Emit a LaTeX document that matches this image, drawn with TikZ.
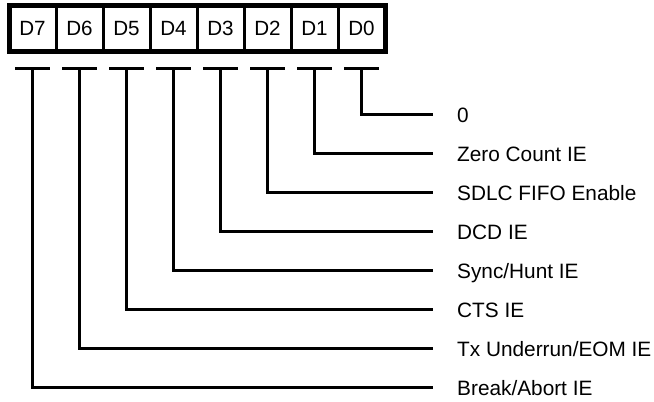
\documentclass[tikz,border=0pt]{standalone}
\usepackage{fontspec}
\setmainfont{Liberation Sans}
\usetikzlibrary{positioning}

\tikzset{
	bit/.style={draw, line width=3pt, minimum width=47pt, minimum height=46.5pt, inner sep=0pt, outer sep=0pt, font=\fontsize{20.6}{24}\selectfont},
	field/.style={anchor=west, inner sep=0pt, text height=17pt, text depth=0pt, font=\fontsize{20.8}{24}\selectfont},
	tbar/.style={line width=3pt},
	wire/.style={line width=2.6pt},
}

\begin{document}
\begin{tikzpicture}[x=1pt,y=-1pt]
				\useasboundingbox (0,0) rectangle (654,402);
				% register bits
				\node[bit] at (32.5,28.25)  (b7) {D7};
				\node[bit] at (79.5,28.25)  (b6) {D6};
				\node[bit] at (126.5,28.25) (b5) {D5};
				\node[bit] at (173.5,28.25) (b4) {D4};
				\node[bit] at (220.5,28.25) (b3) {D3};
				\node[bit] at (267.5,28.25) (b2) {D2};
				\node[bit] at (314.5,28.25) (b1) {D1};
				\node[bit] at (361.5,28.25) (b0) {D0};
				\draw[line width=5pt] (b7.north west) rectangle (b0.south east);
				% bar tops
				\coordinate[below=40.25pt of b7.center] (t7);
				\coordinate[below=40.25pt of b6.center] (t6);
				\coordinate[below=40.25pt of b5.center] (t5);
				\coordinate[below=40.25pt of b4.center] (t4);
				\coordinate[below=40.25pt of b3.center] (t3);
				\coordinate[below=40.25pt of b2.center] (t2);
				\coordinate[below=40.25pt of b1.center] (t1);
				\coordinate[below=40.25pt of b0.center] (t0);
				\draw[tbar] ([xshift=-17.5pt]t7) -- ([xshift=17.5pt]t7);
				\draw[tbar] ([xshift=-17.5pt]t6) -- ([xshift=17.5pt]t6);
				\draw[tbar] ([xshift=-17.5pt]t5) -- ([xshift=17.5pt]t5);
				\draw[tbar] ([xshift=-17.5pt]t4) -- ([xshift=17.5pt]t4);
				\draw[tbar] ([xshift=-17.5pt]t3) -- ([xshift=17.5pt]t3);
				\draw[tbar] ([xshift=-17.5pt]t2) -- ([xshift=17.5pt]t2);
				\draw[tbar] ([xshift=-17.5pt]t1) -- ([xshift=17.5pt]t1);
				\draw[tbar] ([xshift=-17.5pt]t0) -- ([xshift=17.5pt]t0);
				% line ends and field names
				\coordinate (e0) at (432.5,114.3);
				\coordinate (e1) at (432.5,153.3);
				\coordinate (e2) at (432.5,192.3);
				\coordinate (e3) at (432.5,231.3);
				\coordinate (e4) at (432.5,270.3);
				\coordinate (e5) at (432.5,309.3);
				\coordinate (e6) at (432.5,348.3);
				\coordinate (e7) at (432.5,387.3);
				\node[field] at (457,114.3) (l0) {0};
				\node[field] at (457,153.3) (l1) {Zero Count IE};
				\node[field] at (457,192.3) (l2) {SDLC FIFO Enable};
				\node[field] at (457,231.3) (l3) {DCD IE};
				\node[field] at (457,270.3) (l4) {Sync/Hunt IE};
				\node[field] at (457,309.3) (l5) {CTS IE};
				\node[field] at (457,348.3) (l6) {Tx Underrun/EOM IE};
				\node[field] at (457,387.3) (l7) {Break/Abort IE};
				\draw[wire] (t0) |- (e0);
				\draw[wire] (t1) |- (e1);
				\draw[wire] (t2) |- (e2);
				\draw[wire] (t3) |- (e3);
				\draw[wire] (t4) |- (e4);
				\draw[wire] (t5) |- (e5);
				\draw[wire] (t6) |- (e6);
				\draw[wire] (t7) |- (e7);
\end{tikzpicture}
\end{document}
